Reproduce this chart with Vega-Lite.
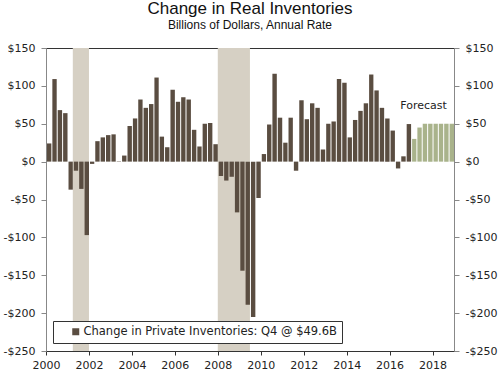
{
  "$schema": "https://vega.github.io/schema/vega-lite/v6.json",
  "width": 408,
  "height": 303,
  "autosize": {"type": "none"},
  "padding": {"left": 46, "top": 48, "right": 46, "bottom": 26},
  "background": "white",
  "title": {
    "text": "Change in Real Inventories",
    "subtitle": "Billions of Dollars, Annual Rate",
    "font": "Liberation Sans",
    "fontSize": 17,
    "fontWeight": "normal",
    "subtitleFont": "Liberation Sans",
    "subtitleFontSize": 12,
    "subtitlePadding": 2,
    "offset": 10,
    "anchor": "middle",
    "color": "#111",
    "subtitleColor": "#111"
  },
  "config": {
    "view": {"stroke": "#333"},
    "axis": {"labelFont": "DejaVu Sans", "labelFontSize": 11, "labelColor": "#222", "grid": false, "title": null}
  },
  "resolve": {"axis": {"y": "independent"}},
  "layer": [
    {
      "data": {"values": [
        {"start": "2001-04-01", "end": "2002-01-01"},
        {"start": "2008-01-01", "end": "2009-07-01"}
      ]},
      "mark": {"type": "rect", "color": "#d6d0c4"},
      "encoding": {
        "x": {"field": "start", "type": "temporal"},
        "x2": {"field": "end"},
        "y": {"datum": 150, "type": "quantitative", "axis": null},
        "y2": {"datum": -250}
      }
    },
    {
      "data": {"values": [
        {"date": "2000-01-01", "value": 24, "type": "Actual"},
        {"date": "2000-04-01", "value": 109, "type": "Actual"},
        {"date": "2000-07-01", "value": 68, "type": "Actual"},
        {"date": "2000-10-01", "value": 64, "type": "Actual"},
        {"date": "2001-01-01", "value": -37, "type": "Actual"},
        {"date": "2001-04-01", "value": -12, "type": "Actual"},
        {"date": "2001-07-01", "value": -36, "type": "Actual"},
        {"date": "2001-10-01", "value": -97, "type": "Actual"},
        {"date": "2002-01-01", "value": -3, "type": "Actual"},
        {"date": "2002-04-01", "value": 27, "type": "Actual"},
        {"date": "2002-07-01", "value": 32, "type": "Actual"},
        {"date": "2002-10-01", "value": 35, "type": "Actual"},
        {"date": "2003-01-01", "value": 36, "type": "Actual"},
        {"date": "2003-04-01", "value": 0.5, "type": "Actual"},
        {"date": "2003-07-01", "value": 8, "type": "Actual"},
        {"date": "2003-10-01", "value": 47, "type": "Actual"},
        {"date": "2004-01-01", "value": 57, "type": "Actual"},
        {"date": "2004-04-01", "value": 82, "type": "Actual"},
        {"date": "2004-07-01", "value": 71, "type": "Actual"},
        {"date": "2004-10-01", "value": 76, "type": "Actual"},
        {"date": "2005-01-01", "value": 111, "type": "Actual"},
        {"date": "2005-04-01", "value": 33, "type": "Actual"},
        {"date": "2005-07-01", "value": 19, "type": "Actual"},
        {"date": "2005-10-01", "value": 95, "type": "Actual"},
        {"date": "2006-01-01", "value": 79, "type": "Actual"},
        {"date": "2006-04-01", "value": 85, "type": "Actual"},
        {"date": "2006-07-01", "value": 82, "type": "Actual"},
        {"date": "2006-10-01", "value": 42, "type": "Actual"},
        {"date": "2007-01-01", "value": 20, "type": "Actual"},
        {"date": "2007-04-01", "value": 50, "type": "Actual"},
        {"date": "2007-07-01", "value": 51, "type": "Actual"},
        {"date": "2007-10-01", "value": 23, "type": "Actual"},
        {"date": "2008-01-01", "value": -19, "type": "Actual"},
        {"date": "2008-04-01", "value": -25, "type": "Actual"},
        {"date": "2008-07-01", "value": -20, "type": "Actual"},
        {"date": "2008-10-01", "value": -67, "type": "Actual"},
        {"date": "2009-01-01", "value": -144, "type": "Actual"},
        {"date": "2009-04-01", "value": -189, "type": "Actual"},
        {"date": "2009-07-01", "value": -205, "type": "Actual"},
        {"date": "2009-10-01", "value": -48, "type": "Actual"},
        {"date": "2010-01-01", "value": 10, "type": "Actual"},
        {"date": "2010-04-01", "value": 49, "type": "Actual"},
        {"date": "2010-07-01", "value": 116, "type": "Actual"},
        {"date": "2010-10-01", "value": 58, "type": "Actual"},
        {"date": "2011-01-01", "value": 25, "type": "Actual"},
        {"date": "2011-04-01", "value": 58, "type": "Actual"},
        {"date": "2011-07-01", "value": -12, "type": "Actual"},
        {"date": "2011-10-01", "value": 81, "type": "Actual"},
        {"date": "2012-01-01", "value": 56, "type": "Actual"},
        {"date": "2012-04-01", "value": 77, "type": "Actual"},
        {"date": "2012-07-01", "value": 71, "type": "Actual"},
        {"date": "2012-10-01", "value": 16, "type": "Actual"},
        {"date": "2013-01-01", "value": 50, "type": "Actual"},
        {"date": "2013-04-01", "value": 53, "type": "Actual"},
        {"date": "2013-07-01", "value": 109, "type": "Actual"},
        {"date": "2013-10-01", "value": 104, "type": "Actual"},
        {"date": "2014-01-01", "value": 32, "type": "Actual"},
        {"date": "2014-04-01", "value": 55, "type": "Actual"},
        {"date": "2014-07-01", "value": 67, "type": "Actual"},
        {"date": "2014-10-01", "value": 77, "type": "Actual"},
        {"date": "2015-01-01", "value": 115, "type": "Actual"},
        {"date": "2015-04-01", "value": 94, "type": "Actual"},
        {"date": "2015-07-01", "value": 71, "type": "Actual"},
        {"date": "2015-10-01", "value": 57, "type": "Actual"},
        {"date": "2016-01-01", "value": 41, "type": "Actual"},
        {"date": "2016-04-01", "value": -9, "type": "Actual"},
        {"date": "2016-07-01", "value": 7, "type": "Actual"},
        {"date": "2016-10-01", "value": 49.6, "type": "Actual"},
        {"date": "2017-01-01", "value": 30, "type": "Forecast"},
        {"date": "2017-04-01", "value": 45, "type": "Forecast"},
        {"date": "2017-07-01", "value": 50, "type": "Forecast"},
        {"date": "2017-10-01", "value": 50, "type": "Forecast"},
        {"date": "2018-01-01", "value": 50, "type": "Forecast"},
        {"date": "2018-04-01", "value": 50, "type": "Forecast"},
        {"date": "2018-07-01", "value": 50, "type": "Forecast"},
        {"date": "2018-10-01", "value": 50, "type": "Forecast"}
      ]},
      "mark": {"type": "bar", "timeUnitBandSize": 0.7},
      "encoding": {
        "x": {
          "field": "date",
          "timeUnit": "utcyearquarter",
          "type": "temporal",
          "scale": {
            "type": "utc",
            "domain": [
              {"year": 2000, "month": 1, "date": 1, "utc": true},
              {"year": 2019, "month": 1, "date": 1, "utc": true}
            ]
          },
          "axis": {
            "values": [
              {"year": 2000, "utc": true}, {"year": 2001, "utc": true}, {"year": 2002, "utc": true},
              {"year": 2003, "utc": true}, {"year": 2004, "utc": true}, {"year": 2005, "utc": true},
              {"year": 2006, "utc": true}, {"year": 2007, "utc": true}, {"year": 2008, "utc": true},
              {"year": 2009, "utc": true}, {"year": 2010, "utc": true}, {"year": 2011, "utc": true},
              {"year": 2012, "utc": true}, {"year": 2013, "utc": true}, {"year": 2014, "utc": true},
              {"year": 2015, "utc": true}, {"year": 2016, "utc": true}, {"year": 2017, "utc": true},
              {"year": 2018, "utc": true}, {"year": 2019, "utc": true}
            ],
            "labelExpr": "utcyear(datum.value) % 2 == 0 ? utcFormat(datum.value, '%Y') : ''",
            "labelOverlap": false,
            "labelFlush": false,
            "domainColor": "#333",
            "tickColor": "#333",
            "tickSize": 4,
            "labelPadding": 4
          }
        },
        "y": {
          "field": "value",
          "type": "quantitative",
          "scale": {"domain": [-250, 150], "nice": false, "zero": false},
          "axis": {
            "orient": "left",
            "values": [-250, -200, -150, -100, -50, 0, 50, 100, 150],
            "labelExpr": "datum.value < 0 ? '-$' + abs(datum.value) : '$' + datum.value",
            "domainColor": "#888",
            "tickColor": "#888",
            "tickSize": 5,
            "labelPadding": 6
          }
        },
        "color": {
          "field": "type",
          "type": "nominal",
          "scale": {"domain": ["Actual", "Forecast"], "range": ["#5a4d41", "#a9b38b"]},
          "legend": {
            "values": ["Actual"],
            "labelExpr": "'Change in Private Inventories: Q4 @ $49.6B'",
            "title": null,
            "orient": "none",
            "legendX": 7,
            "legendY": 273,
            "padding": 5,
            "symbolOffset": 12,
            "symbolType": "square",
            "symbolSize": 49,
            "symbolStrokeWidth": 0,
            "labelOffset": 2,
            "labelFont": "DejaVu Sans",
            "labelFontSize": 11.5,
            "labelColor": "#222",
            "labelLimit": 400,
            "strokeColor": "#333",
            "fillColor": "white"
          }
        }
      }
    },
    {
      "mark": {"type": "rule", "color": "#222", "strokeWidth": 1},
      "encoding": {
        "y": {
          "datum": 0,
          "type": "quantitative",
          "axis": {
            "orient": "right",
            "values": [-250, -200, -150, -100, -50, 0, 50, 100, 150],
            "labelExpr": "datum.value < 0 ? '-$' + abs(datum.value) : '$' + datum.value",
            "domainColor": "#888",
            "tickColor": "#888",
            "tickSize": 5,
            "labelPadding": 6
          }
        }
      }
    },
    {
      "data": {"values": [{"date": "2017-07-31", "label": "Forecast"}]},
      "mark": {"type": "text", "font": "DejaVu Sans", "fontSize": 11, "color": "#222"},
      "encoding": {
        "x": {"field": "date", "type": "temporal"},
        "y": {"datum": 74, "type": "quantitative", "axis": null},
        "text": {"field": "label"}
      }
    }
  ]
}
